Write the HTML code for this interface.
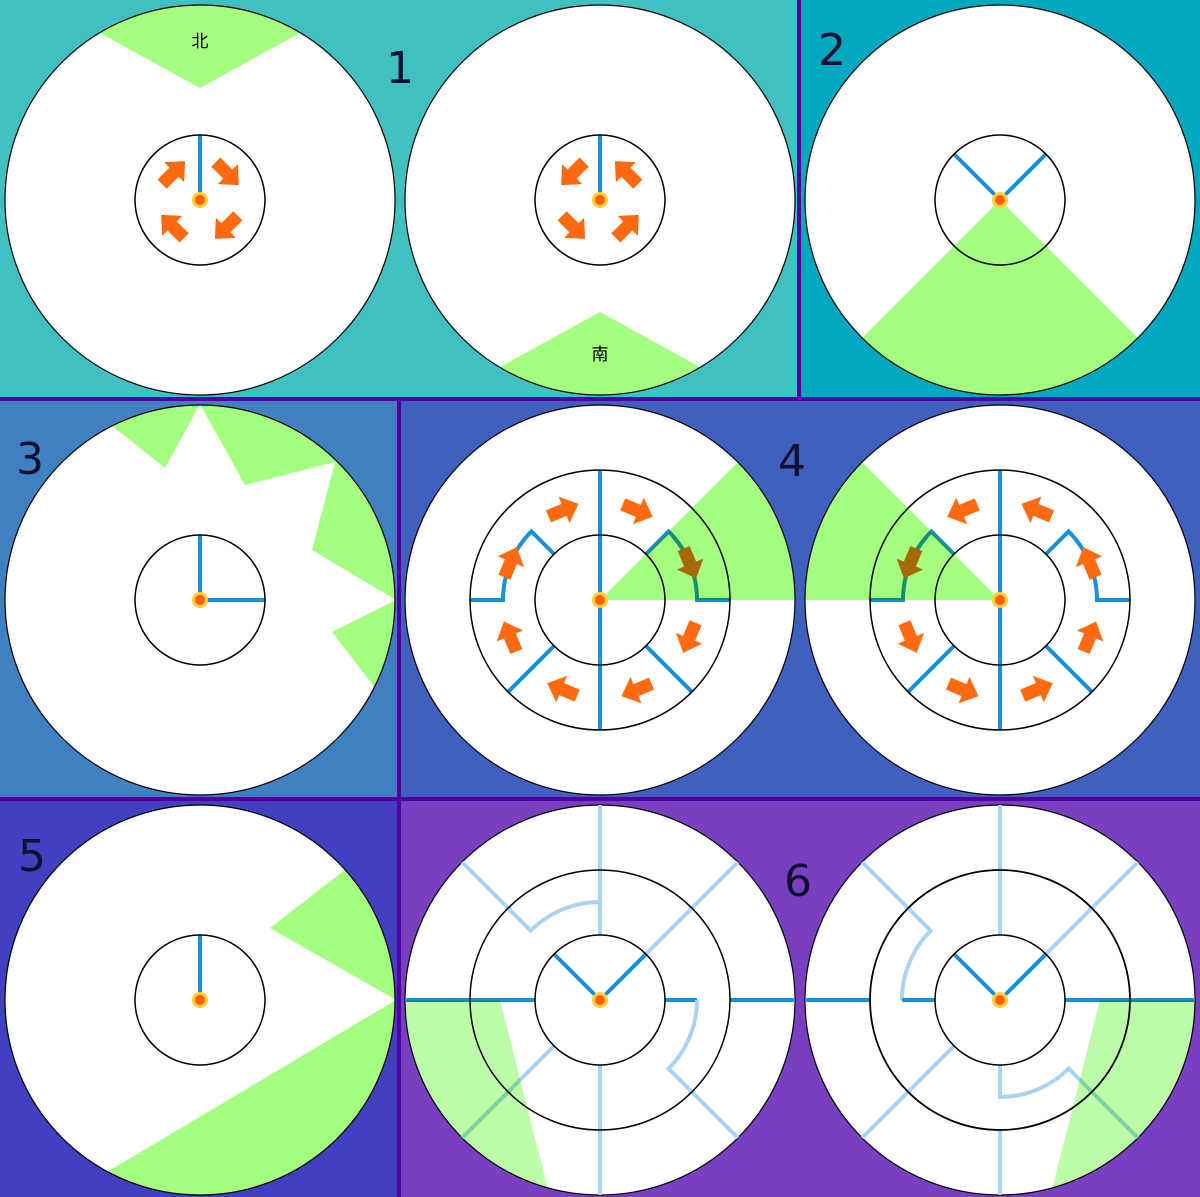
<!DOCTYPE html>
<html><head><meta charset="utf-8"><style>
html,body{margin:0;padding:0;background:#5000a0}
svg{display:block}
text{font-family:"DejaVu Sans","Liberation Sans","Noto Sans CJK SC",sans-serif}
</style></head><body>
<svg id="s" width="1200" height="1197" viewBox="0 0 1200 1197" xmlns="http://www.w3.org/2000/svg">
<defs>
<clipPath id="c1a"><circle cx="200" cy="200" r="195"/></clipPath>
<clipPath id="c1b"><circle cx="600" cy="200" r="195"/></clipPath>
<clipPath id="c2"><circle cx="1000" cy="200" r="195"/></clipPath>
<clipPath id="c3"><circle cx="200" cy="600" r="195"/></clipPath>
<clipPath id="c4a"><circle cx="600" cy="600" r="195"/></clipPath>
<clipPath id="c4b"><circle cx="1000" cy="600" r="195"/></clipPath>
<clipPath id="c5"><circle cx="200" cy="1000" r="195"/></clipPath>
<clipPath id="c6a"><circle cx="600" cy="1000" r="195"/></clipPath>
<clipPath id="c6b"><circle cx="1000" cy="1000" r="195"/></clipPath>
</defs>
<rect x="0" y="0" width="797" height="397" fill="#40c0c0"/>
<rect x="801" y="0" width="399" height="397" fill="#00a8c0"/>
<rect x="0" y="401" width="397" height="396" fill="#4080c0"/>
<rect x="401" y="401" width="799" height="396" fill="#4060c0"/>
<rect x="0" y="801" width="397" height="396" fill="#4040c0"/>
<rect x="401" y="801" width="799" height="396" fill="#7840c0"/>
<g id="g"></g>
<g font-size="44" fill="#101030">
<text x="386" y="83">1</text>
<text x="818" y="65">2</text>
<text x="16" y="474">3</text>
<text x="778" y="476">4</text>
<text x="18" y="871">5</text>
<text x="784" y="896">6</text>
</g>
<text x="200" y="47" font-size="17" text-anchor="middle" fill="#000">北</text>
<text x="600" y="360" font-size="17" text-anchor="middle" fill="#000">南</text>
</svg>
<script>
const NS='http://www.w3.org/2000/svg';
const G=document.getElementById('g');
const BLUE='#1890e0',LB='#aad4f4',OR='#ff6a10';
function mk(tag,attrs,parent){const e=document.createElementNS(NS,tag);for(const k in attrs)e.setAttribute(k,attrs[k]);(parent||G).appendChild(e);return e;}
function pt(cx,cy,r,a){const t=a*Math.PI/180;return [cx+r*Math.cos(t),cy+r*Math.sin(t)];}
const dials=[[200,200,0,'c1a'],[600,200,0,'c1b'],[1000,200,0,'c2'],[200,600,0,'c3'],[600,600,1,'c4a'],[1000,600,1,'c4b'],[200,1000,0,'c5'],[600,1000,1,'c6a'],[1000,1000,1,'c6b']];
const greens={
 c1a:[[40,0],[200,88],[360,0]],
 c1b:[[440,400],[600,312],[760,400]],
 c2:[[1000,200],[780,420],[1220,420]],
 c3:[[80,400],[165,468],[200,404],[245,485],[335,462],[312,550],[396,600],[332,632],[400,720],[400,400]],
 c4a:[[600,600],[800,600],[800,400]],
 c4b:[[1000,600],[800,600],[800,400]],
 c5:[[390,835],[270,928],[396,1000],[60,1200],[400,1200],[400,835]],
 c6a:[[400,1000],[500,1000],[550,1197],[400,1197]],
 c6b:[[1100,1000],[1200,1000],[1200,1197],[1050,1197]]
};
function line(a,b,col){const l=mk('line',{x1:a[0],y1:a[1],x2:b[0],y2:b[1],stroke:col,'stroke-width':4,'stroke-linecap':'butt'});

}
function path(d,col){const p=mk('path',{d:d,fill:'none',stroke:col,'stroke-width':4,'stroke-linejoin':'miter'});

}
function arrow(x,y,rot){const p=mk('path',{d:'M-12,-5 L1,-5 L1,-11 L13,0 L1,11 L1,5 L-12,5 Z',fill:OR,transform:`translate(${x},${y}) rotate(${rot}) scale(1.3)`});

}
function dot(cx,cy){const d=mk('circle',{cx:cx,cy:cy,r:6.5,fill:'#ff6010',stroke:'#ffd030','stroke-width':3});

}

dials.forEach(([cx,cy,mid,cl])=>{
 const o=mk('circle',{cx:cx,cy:cy,r:195,fill:'#fff',stroke:'#000','stroke-width':1.2});
 
 
});
function content(cl){
 const [cx,cy]=dials.find(d=>d[3]==cl);
 if(cl=='c1a'||cl=='c1b'){
  line([cx,cy],[cx,cy-65],BLUE);
  const cw=cl=='c1a';
  [45,135,225,315].forEach(a=>{const p=pt(cx,cy,38,a);arrow(p[0],p[1],cw?a+90:a-90);});
 }
 if(cl=='c2'){line([cx,cy],pt(cx,cy,65,225),BLUE);line([cx,cy],pt(cx,cy,65,315),BLUE);}
 if(cl=='c3'){line([cx,cy],[cx,cy-65],BLUE);line([cx,cy],[cx+65,cy],BLUE);}
 if(cl=='c5'){line([cx,cy],[cx,cy-65],BLUE);}
 if(cl=='c4a'||cl=='c4b'){
  const s=cl=='c4a'?1:-1;
  line([cx,cy-130],[cx,cy+130],BLUE);
  const a45=pt(cx,cy,65,45),b45=pt(cx,cy,130,45);
  line([cx+(a45[0]-cx)*s,a45[1]],[cx+(b45[0]-cx)*s,b45[1]],BLUE);
  line([cx-(a45[0]-cx)*s,a45[1]],[cx-(b45[0]-cx)*s,b45[1]],BLUE);
  [1,-1].forEach(side=>{
   const sx=side;
   const i=pt(cx,cy,65,-45),m=pt(cx,cy,97,-45);
   const ix=cx+(i[0]-cx)*sx,mx=cx+(m[0]-cx)*sx;
   path(`M${ix},${i[1]} L${mx},${m[1]} A97,97 0 0 ${sx>0?1:0} ${cx+97*sx},${cy} L${cx+130*sx},${cy}`,BLUE);
  });
  for(let k=0;k<8;k++){const a=22.5+45*k;const p=pt(cx,cy,97,a);arrow(p[0],p[1],s>0?a+90:a-90);}
 }
 if(cl=='c6a'){
  line([cx,cy-195],[cx,cy-65],LB);
  path(`M${pt(cx,cy,195,225).join(',')} L${pt(cx,cy,98,225).join(',')} A98,98 0 0 1 ${cx},${cy-98}`,LB);
  line(pt(cx,cy,195,315),pt(cx,cy,65,315),LB);
  line([cx,cy],pt(cx,cy,65,315),BLUE);line([cx,cy],pt(cx,cy,65,225),BLUE);
  line([cx-195,cy],[cx-65,cy],BLUE);
  line([cx+130,cy],[cx+195,cy],BLUE);
  line([cx+65,cy],[cx+97,cy],BLUE);
  path(`M${cx+97},${cy} A97,97 0 0 1 ${pt(cx,cy,97,45).join(',')} L${pt(cx,cy,195,45).join(',')}`,LB);
  line([cx,cy+65],[cx,cy+195],LB);
  line(pt(cx,cy,65,135),pt(cx,cy,195,135),LB);
 }
 if(cl=='c6b'){
  line([cx,cy-195],[cx,cy-65],LB);
  path(`M${pt(cx,cy,195,225).join(',')} L${pt(cx,cy,98,225).join(',')} A98,98 0 0 0 ${cx-98},${cy}`,LB);
  line([cx-98,cy],[cx-65,cy],BLUE);
  line([cx-195,cy],[cx-130,cy],BLUE);
  line(pt(cx,cy,195,315),pt(cx,cy,65,315),LB);
  line([cx,cy],pt(cx,cy,65,315),BLUE);line([cx,cy],pt(cx,cy,65,225),BLUE);
  line([cx+65,cy],[cx+195,cy],BLUE);
  path(`M${cx},${cy+65} L${cx},${cy+97} A97,97 0 0 0 ${pt(cx,cy,97,45).join(',')} L${pt(cx,cy,195,45).join(',')}`,LB);
  line([cx,cy+130],[cx,cy+195],LB);
  line(pt(cx,cy,65,135),pt(cx,cy,195,135),LB);
 }
}
dials.forEach(d=>{
 const [cx,cy,mid,cl]=d;
 content(cl);
 const i=mk('circle',{cx:cx,cy:cy,r:65,fill:'none',stroke:'#000','stroke-width':1.5});
 
 
 if(mid){const m=mk('circle',{cx:cx,cy:cy,r:130,fill:'none',stroke:'#000','stroke-width':cl=='c6b'?1.8:1.5});
  
  }
 const gp=greens[cl];
 const light=cl=='c6a'||cl=='c6b';
 const poly=mk('polygon',{points:gp.map(p=>p.join(',')).join(' '),fill:light?'#bcfca8':'#a4ff80','clip-path':`url(#${cl})`,style:'mix-blend-mode:multiply'});
 
 
 dot(cx,cy);
});
</script>
</body></html>
